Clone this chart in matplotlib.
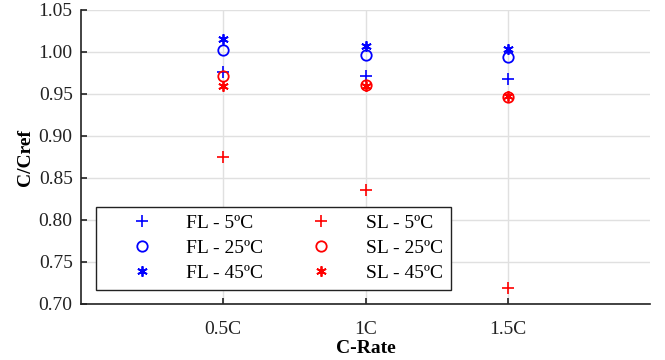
import matplotlib
matplotlib.use("Agg")
import matplotlib.pyplot as plt

plt.rcParams['font.family'] = ['Liberation Serif', 'DejaVu Serif']

categories = ['0.5C', '1C', '1.5C']
fl_5 = [0.976, 0.972, 0.968]
fl_25 = [1.002, 0.996, 0.994]
fl_45 = [1.015, 1.007, 1.004]
sl_5 = [0.875, 0.836, 0.719]
sl_25 = [0.972, 0.961, 0.947]
sl_45 = [0.960, 0.960, 0.948]

x = [1, 2, 3]

fig = plt.figure(figsize=(6.65, 3.6), dpi=100)
ax = fig.add_axes([81/665, 1 - 304/360, (650-81)/665, (304-10)/360])

ms = 8
ax.plot(x, fl_5, ls='none', marker='+', color='blue', ms=ms, mew=1.2, label='FL - 5ºC')
ax.plot(x, fl_25, ls='none', marker='o', mfc='none', color='blue', ms=ms-0.5, mew=1.3, label='FL - 25ºC')
ax.plot(x, fl_45, ls='none', marker=(6, 2, 0), color='blue', ms=ms-0.5, mew=1.3, label='FL - 45ºC')
ax.plot(x, sl_5, ls='none', marker='+', color='red', ms=ms, mew=1.2, label='SL - 5ºC')
ax.plot(x, sl_25, ls='none', marker='o', mfc='none', color='red', ms=ms-0.5, mew=1.3, label='SL - 25ºC')
ax.plot(x, sl_45, ls='none', marker=(6, 2, 0), color='red', ms=ms-0.5, mew=1.3, label='SL - 45ºC')

ax.set_xlim(0, 4)
ax.set_ylim(0.70, 1.05)
ax.set_xticks(x)
ax.set_xticklabels(categories)
yt = [0.70, 0.75, 0.80, 0.85, 0.90, 0.95, 1.00, 1.05]
ax.set_yticks(yt)
ax.set_yticklabels(['%.2f' % v for v in yt])
ax.grid(True, color='#e0e0e0', lw=1)
ax.set_axisbelow(True)
for s in ['top', 'right']:
    ax.spines[s].set_visible(False)
for s in ['left', 'bottom']:
    ax.spines[s].set_linewidth(1.2)
    ax.spines[s].set_color('#222222')
ax.tick_params(labelsize=14, colors='#222222', direction='in', length=4, width=1.2)
ax.tick_params(axis='x', pad=12)
ax.tick_params(axis='y', pad=6)
ax.set_xlabel('C-Rate', fontsize=14, fontweight='bold', labelpad=2)
ax.set_ylabel('C/Cref', fontsize=14, fontweight='bold', labelpad=3)

leg = ax.legend(ncol=2, loc='lower left', bbox_to_anchor=(15/569, 14/294), fontsize=14,
                frameon=True, fancybox=False, edgecolor='#222222', framealpha=1,
                handlelength=3.95, handletextpad=0.3, columnspacing=1.0, labelspacing=0.38,
                borderpad=0.4, borderaxespad=0)
leg.get_frame().set_linewidth(1.0)

fig.savefig('out.png', dpi=100)
